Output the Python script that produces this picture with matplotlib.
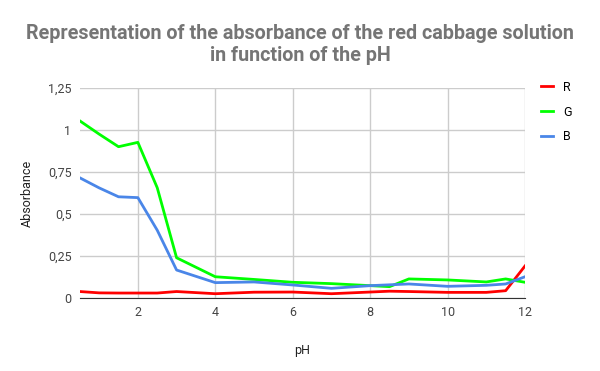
import matplotlib.pyplot as plt
from matplotlib.ticker import FuncFormatter

# data
ph = [0.5, 1, 1.5, 2, 2.5, 3, 4, 5, 6, 7, 8, 8.5, 9, 10, 11, 11.5, 12]
r_vals = [0.038, 0.03, 0.029, 0.029, 0.029, 0.038, 0.025, 0.034, 0.035, 0.025,
          0.035, 0.04, 0.038, 0.033, 0.033, 0.043, 0.19]
g_vals = [1.054, 0.975, 0.90, 0.926, 0.656, 0.239, 0.126, 0.11, 0.093, 0.085,
          0.073, 0.067, 0.113, 0.107, 0.095, 0.113, 0.093]
b_vals = [0.715, 0.655, 0.602, 0.597, 0.403, 0.166, 0.091, 0.095, 0.077, 0.057,
          0.073, 0.078, 0.083, 0.069, 0.075, 0.083, 0.126]

plt.rcParams['font.family'] = ['Roboto', 'DejaVu Sans']

fig = plt.figure(figsize=(6, 3.71), dpi=100)
ax = fig.add_axes([0.133, 0.197, 0.742, 0.566])

ax.plot(ph, r_vals, color="#ff0000", lw=2, label="R")
ax.plot(ph, g_vals, color="#00ff00", lw=2, label="G")
ax.plot(ph, b_vals, color="#4a86e8", lw=2, label="B")

ax.set_xlim(0.5, 12)
ax.set_ylim(0, 1.25)
ax.set_xticks([2, 4, 6, 8, 10, 12])
ax.set_yticks([0, 0.25, 0.5, 0.75, 1, 1.25])
ax.yaxis.set_major_formatter(FuncFormatter(lambda v, p: f"{v:g}".replace(".", ",")))
ax.grid(True, color="#cccccc", lw=1)
ax.set_axisbelow(True)
for s in ["top", "right", "left"]:
    ax.spines[s].set_visible(False)
ax.spines["bottom"].set_color("#333333")
ax.tick_params(length=0, labelsize=9, colors="#444444", pad=6)

ax.set_xlabel("pH", fontsize=9, color="#222222", labelpad=18)
ax.set_ylabel("Absorbance", fontsize=9, color="#222222", labelpad=10)

fig.suptitle("Representation of the absorbance of the red cabbage solution\nin function of the pH",
             fontsize=14.2, fontweight="bold", color="#757575", y=0.935, linespacing=1.2)

ax.legend(loc="upper left", bbox_to_anchor=(1.01, 1.088), frameon=False,
          handlelength=1.0, labelspacing=0.95, fontsize=9)

plt.savefig("out.png")
